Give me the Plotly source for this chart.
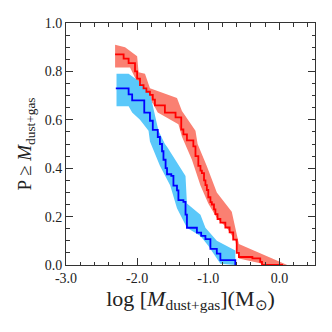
import plotly.graph_objects as go

# cumulative fraction, red sample (steps start at each x)
red_x = [-2.31, -2.19, -2.12, -2.03, -2.00, -1.96, -1.91, -1.87, -1.82, -1.78, -1.75, -1.61,
         -1.46, -1.38, -1.35, -1.30, -1.21, -1.18, -1.14, -1.11, -1.09, -1.06, -1.04,
         -1.02, -1.00, -0.97, -0.95, -0.92, -0.90, -0.87, -0.83, -0.76, -0.70, -0.65,
         -0.60, -0.57, -0.38, -0.27, -0.245, 0.05]
red_y = [0.87, 0.853, 0.834, 0.80, 0.77, 0.743, 0.73, 0.716, 0.703, 0.683, 0.66, 0.63,
         0.61, 0.56, 0.54, 0.515, 0.49, 0.45, 0.41, 0.39, 0.38, 0.35, 0.33,
         0.31, 0.28, 0.26, 0.25, 0.23, 0.21, 0.19, 0.175, 0.155, 0.135, 0.105,
         0.05, 0.033, 0.027, 0.013, 0.0, 0.0]

red_up_x = [-2.31, -2.17, -2.00, -1.98, -1.89, -1.82, -1.44, -1.37, -1.18, -1.15,
            -1.02, -0.88, -0.67, -0.62, -0.57, -0.36, 0.11]
red_up_y = [0.91, 0.90, 0.863, 0.796, 0.79, 0.73, 0.69, 0.636, 0.555, 0.50,
            0.408, 0.30, 0.22, 0.15, 0.087, 0.06, 0.0]
red_lo_x = [-2.31, -2.10, -2.00, -1.77, -1.71, -1.42, -1.37, -1.30, -1.23, -1.11,
            -1.00, -0.88, -0.74, -0.62, -0.57, -0.27, -0.24]
red_lo_y = [0.816, 0.816, 0.756, 0.663, 0.63, 0.582, 0.53, 0.48, 0.435, 0.328,
            0.254, 0.194, 0.154, 0.10, 0.027, 0.007, 0.0]

# cumulative fraction, blue sample
blue_x = [-2.30, -2.12, -2.07, -1.90, -1.82, -1.78, -1.71, -1.68, -1.65, -1.63, -1.60,
          -1.58, -1.52, -1.49, -1.44, -1.42, -1.35, -1.32, -1.30, -1.16, -1.10, -1.04,
          -0.97, -0.88, -0.83, -0.62]
blue_y = [0.73, 0.705, 0.68, 0.63, 0.596, 0.558, 0.529, 0.50, 0.47, 0.435, 0.40,
          0.375, 0.368, 0.328, 0.308, 0.268, 0.261, 0.208, 0.154, 0.134, 0.12, 0.107,
          0.067, 0.047, 0.02, 0.0]

blue_up_x = [-2.29, -2.12, -1.96, -1.82, -1.70, -1.61, -1.58, -1.465, -1.32, -1.30,
             -1.11, -1.04, -0.88, -0.62, -0.62]
blue_up_y = [0.79, 0.79, 0.756, 0.71, 0.555, 0.50, 0.489, 0.435, 0.368, 0.254,
             0.208, 0.154, 0.10, 0.06, 0.0]
blue_lo_x = [-2.29, -2.12, -2.07, -1.96, -1.84, -1.82, -1.75, -1.68, -1.535, -1.44,
             -1.30, -1.11, -1.00, -0.88, -0.83, -0.62]
blue_lo_y = [0.656, 0.656, 0.63, 0.60, 0.555, 0.51, 0.46, 0.41, 0.328, 0.234,
             0.154, 0.12, 0.08, 0.027, 0.005, 0.0]

RED_BAND = "rgb(250,128,114)"
BLUE_BAND = "rgb(90,200,250)"

fig = go.Figure()

# bands as closed polygons
fig.add_trace(go.Scatter(x=red_up_x + red_lo_x[::-1], y=red_up_y + red_lo_y[::-1],
                         fill="toself", fillcolor=RED_BAND, line=dict(width=0),
                         mode="lines", hoverinfo="skip"))
fig.add_trace(go.Scatter(x=blue_up_x + blue_lo_x[::-1], y=blue_up_y + blue_lo_y[::-1],
                         fill="toself", fillcolor=BLUE_BAND, line=dict(width=0),
                         mode="lines", hoverinfo="skip"))

fig.add_trace(go.Scatter(x=red_x, y=red_y, mode="lines", line_shape="hv",
                         line=dict(color="#ff0000", width=1.8)))
fig.add_trace(go.Scatter(x=blue_x, y=blue_y, mode="lines", line_shape="hv",
                         line=dict(color="#0000ff", width=1.8)))

tick_font = dict(family="Liberation Serif", size=14, color="#222222")

fig.update_xaxes(range=[-3.0, 0.5], tickvals=[-3, -2, -1, 0],
                 ticktext=["-3.0", "-2.0", "-1.0", "0.0"],
                 ticks="inside", ticklen=7, tickwidth=1, tickcolor="#333",
                 minor=dict(dtick=0.2, ticks="inside", ticklen=3.5, tickcolor="#333", showgrid=False),
                 showline=True, linecolor="#333", linewidth=1, mirror="allticks",
                 showgrid=False, zeroline=False, tickfont=tick_font,
                 title=dict(text="log [<i>M</i><sub>dust+gas</sub>](M<sub>⊙</sub>)",
                            font=dict(family="Liberation Serif", size=22, color="#222222"),
                            standoff=3))
fig.update_yaxes(range=[0, 1.0], tickvals=[0, 0.2, 0.4, 0.6, 0.8, 1.0],
                 ticktext=["0.0", "0.2", "0.4", "0.6", "0.8", "1.0"],
                 ticks="inside", ticklen=7, tickwidth=1, tickcolor="#333",
                 minor=dict(dtick=0.05, ticks="inside", ticklen=3.5, tickcolor="#333", showgrid=False),
                 showline=True, linecolor="#333", linewidth=1, mirror="allticks",
                 showgrid=False, zeroline=False, tickfont=tick_font,
                 title=dict(text="P ≥ <i>M</i><sub>dust+gas</sub>",
                            font=dict(family="Liberation Serif", size=19, color="#222222"),
                            standoff=8))

# page body adds an 8px offset, so margins are shifted to keep the plot box in place
fig.update_layout(width=332, height=332, showlegend=False,
                  paper_bgcolor="white", plot_bgcolor="white",
                  margin=dict(l=58, r=25, t=8, b=75))

fig.write_html("out.html")
